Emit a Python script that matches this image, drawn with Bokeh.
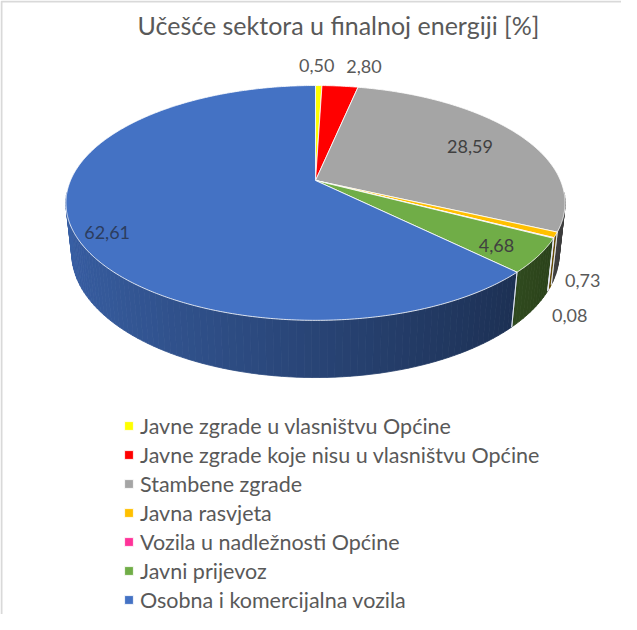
import numpy as np
from bokeh.plotting import figure
from bokeh.models import Range1d, Legend, LegendItem
from bokeh.embed import file_html
from bokeh.resources import INLINE
from bokeh.core.properties import value

# ---------------- data ----------------
title_text = "Učešće sektora u finalnoj energiji [%]"
categories = [
    "Javne zgrade u vlasništvu Općine",
    "Javne zgrade koje nisu u vlasništvu Općine",
    "Stambene zgrade",
    "Javna rasvjeta",
    "Vozila u nadležnosti Općine",
    "Javni prijevoz",
    "Osobna i komercijalna vozila",
]
shares = [0.50, 2.80, 28.59, 0.73, 0.08, 4.68, 62.61]
label_texts = ["0,50", "2,80", "28,59", "0,73", "0,08", "4,68", "62,61"]
colors = ["#FFFF00", "#FF0000", "#A5A5A5", "#FFC000", "#FF3399", "#70AD47", "#4472C4"]

# ---------------- layout / style ----------------
FONT = "Lato"
W, H = 621, 614
cx, cy = 323.0, 188.0          # screen position of pie centre (top face)
S = 245.0                      # scale (px per radius)
alpha = np.radians(27.5)       # tilt
k = 0.191                      # perspective strength
Dcam = np.cos(alpha) / k
thick = 0.234                  # pie thickness (radius units)

# label placement: (kind, radius, dx, dy); "out" labels are anchored at the rim
label_place = [("out", 1.0, -2, -20), ("out", 1.0, 24, -20), ("in", 0.72, 6, 0),
               ("out", 1.0, 27, 46), ("out", 1.0, 16, 78), ("in", 0.85, -5, 2),
               ("in", 0.84, -6, 13)]


def proj(r, theta, z):
    x = r * np.sin(theta)
    y = r * np.cos(theta)
    depth = 1 + (y * np.cos(alpha) - z * np.sin(alpha)) / Dcam
    X = cx + S * x / depth
    Y = cy - S * (y * np.sin(alpha) + z * np.cos(alpha)) / depth
    return X, Y


def shade(hexcol, f):
    hexcol = hexcol.lstrip("#")
    r, g, b = (int(hexcol[i:i + 2], 16) for i in (0, 2, 4))
    return "#%02x%02x%02x" % (min(255, int(r * f)), min(255, int(g * f)), min(255, int(b * f)))


total = sum(shares)
bounds = np.concatenate([[0], np.cumsum(shares)]) / total * 2 * np.pi

p = figure(width=W, height=H, x_range=Range1d(8, 8 + W), y_range=Range1d(8 + H, 8),
           output_backend="svg", toolbar_location=None, min_border=0,
           background_fill_color="white", border_fill_color="white")
p.axis.visible = False
p.grid.visible = False
p.outline_line_color = None

# chart border (top / left visible)
p.quad(left=[9], right=[2000], top=[9], bottom=[2000], fill_color=None,
       line_color="#d9d9d9", line_width=2)

# ---------------- side walls ----------------
vis_lo, vis_hi = np.radians(96), np.radians(264)
wx, wy, wc = [], [], []
edge_x, edge_y = [], []
for i in range(len(shares)):
    a0, a1 = max(bounds[i], vis_lo), min(bounds[i + 1], vis_hi)
    if a1 <= a0:
        continue
    n = max(1, int(np.degrees(a1 - a0) / 1.5) + 1)
    ts = np.linspace(a0, a1, n + 1)
    for j in range(n):
        t0, t1 = ts[j], ts[j + 1]
        xa, ya = proj(1, t0, 0)
        xb, yb = proj(1, t1, 0)
        xc, yc = proj(1, t1, -thick)
        xd, yd = proj(1, t0, -thick)
        wx.append([xa, xb, xc, xd])
        wy.append([ya, yb, yc, yd])
        f = 0.60 - 0.24 * np.sin((t0 + t1) / 2)
        wc.append(shade(colors[i], f))
    for t in (bounds[i], bounds[i + 1]):
        if vis_lo < t < vis_hi:
            xa, ya = proj(1, t, 0)
            xd, yd = proj(1, t, -thick)
            edge_x.append([xa, xd])
            edge_y.append([ya, yd])

p.patches(xs=wx, ys=wy, fill_color=wc, line_color=wc, line_width=0.8)
p.multi_line(xs=edge_x, ys=edge_y, line_color="#e8eef8", line_width=1, line_alpha=0.8)

# ---------------- top faces ----------------
renderers = []
for i in range(len(shares)):
    a0, a1 = bounds[i], bounds[i + 1]
    n = max(2, int(np.degrees(a1 - a0) / 0.5) + 1)
    ts = np.linspace(a0, a1, n + 1)
    X, Y = proj(1, ts, 0)
    xs = [cx] + list(X)
    ys = [cy] + list(Y)
    r = p.patch(x=xs, y=ys, fill_color=colors[i], line_color="white",
                line_width=0.9, line_alpha=0.9)
    renderers.append(r)

# ---------------- data labels ----------------
lx, ly, lt, lc = [], [], [], []
for i, (kind, rad, dx, dy) in enumerate(label_place):
    mid = (bounds[i] + bounds[i + 1]) / 2
    X, Y = proj(rad, mid, 0)
    if kind == "in":
        col = "#404040" if i != 6 else "#2c3d5e"
    else:
        col = "#595959"
    lx.append(X + dx); ly.append(Y + dy); lt.append(label_texts[i]); lc.append(col)

p.text(x=lx, y=ly, text=lt, text_color=lc, text_font=value(FONT),
       text_font_size="18px", text_align="center", text_baseline="middle")

# ---------------- title ----------------
p.text(x=[346], y=[32], text=[title_text], text_color="#595959", text_font=value(FONT),
       text_font_size="25px", text_align="center", text_baseline="middle")

# ---------------- legend ----------------
legend = Legend(items=[LegendItem(label=categories[i], renderers=[renderers[i]])
                       for i in range(len(categories))],
                location=(123, 0), orientation="vertical",
                glyph_width=11, glyph_height=11, label_height=29, spacing=0,
                label_standoff=6, padding=0, margin=0,
                label_text_font=FONT, label_text_font_size="21.5px",
                label_text_color="#595959", border_line_color=None,
                background_fill_alpha=0)
p.add_layout(legend, "center")

open("out.html", "w").write(file_html(p, INLINE))
